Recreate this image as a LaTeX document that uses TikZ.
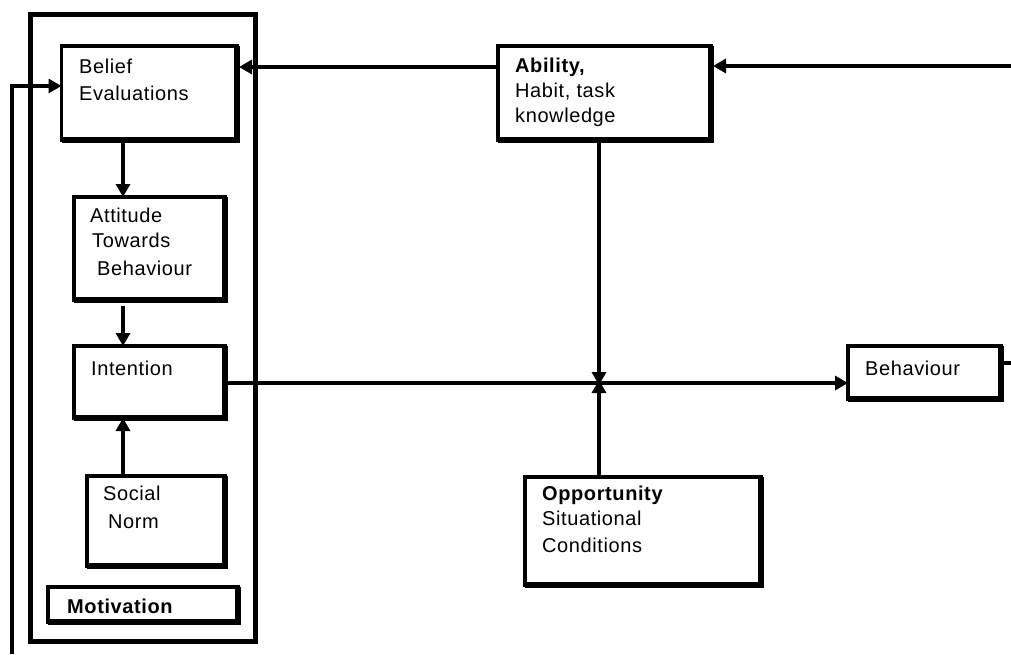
\documentclass[tikz,border=0pt]{standalone}
\usepackage{fontspec}
\setmainfont{Liberation Sans}[LetterSpace=3]
\usetikzlibrary{arrows.meta,calc}
\begin{document}
\begin{tikzpicture}[x=1pt,y=-1pt,
  box/.style={draw, line width=3.5pt, outer sep=0pt, inner sep=0pt, anchor=north west},
  outerbox/.style={box, line width=5pt},
  lbl/.style={anchor=base west, inner sep=0pt, font=\fontsize{20}{24}\selectfont},
  blbl/.style={anchor=base west, inner sep=0pt, font=\fontsize{20}{24}\selectfont\bfseries},
  conn/.style={line width=4.5pt, -{Triangle[length=13pt,width=14pt]}},
  hconn/.style={line width=4pt, -{Triangle[length=13pt,width=14pt]}},
  plain/.style={line width=4pt}]
\useasboundingbox (0,0) rectangle (1011,654);

% boxes
\node[outerbox, minimum width=225pt, minimum height=627pt] (outer) at (30,14) {};
\node[box, minimum width=175.5pt, minimum height=94pt] (belief) at (61.5,46) {};
\node[box, minimum width=151pt, minimum height=103pt] (attitude) at (74,197) {};
\node[box, minimum width=151pt, minimum height=72pt] (intention) at (74,346) {};
\node[box, minimum width=138pt, minimum height=90pt] (social) at (87,476) {};
\node[box, minimum width=190pt, minimum height=35pt] (motiv) at (48,587) {};
\node[box, minimum width=213pt, minimum height=94pt] (ability) at (498,46) {};
\node[box, minimum width=153pt, minimum height=53pt] (behav) at (848,346) {};
\node[box, minimum width=236pt, minimum height=108pt] (opp) at (525,477) {};
\foreach \n in {belief,attitude,intention,social,motiv,ability,behav,opp}
  \draw[line width=5.5pt] (\n.north east) -- (\n.south east) -- (\n.south west);

% labels
\node[lbl] (t1) at (79,73) {Belief};
\node[lbl] (t2) at (79,100) {Evaluations};
\node[lbl] (t3) at (90,222) {Attitude};
\node[lbl] (t4) at (92,247) {Towards};
\node[lbl] (t5) at (97,275) {Behaviour};
\node[lbl] (t6) at (91,375) {Intention};
\node[lbl] (t7) at (103,500) {Social};
\node[lbl] (t8) at (108,528) {Norm};
\node[blbl] (t9) at (67,613) {Motivation};
\node[blbl] (t10) at (515,72) {Ability,};
\node[lbl] (t11) at (515,97) {Habit, task};
\node[lbl] (t12) at (515,122) {knowledge};
\node[blbl] (t13) at (542,500) {Opportunity};
\node[lbl] (t14) at (542,525) {Situational};
\node[lbl] (t15) at (542,552) {Conditions};
\node[lbl] (t16) at (865,375) {Behaviour};

% coordinates
\coordinate (ax) at (123,0);
\coordinate (j) at (599,383);
\coordinate (rin) at (1011,66);
\coordinate (bout) at (1011,363);
\coordinate (fb) at (12,654);

% connectors
\draw[conn] (belief.south -| ax) -- (attitude.north -| ax);
\draw[conn] ($(attitude.south -| ax)+(0,6)$) -- (intention.north -| ax);
\draw[conn] (social.north -| ax) -- (intention.south -| ax);
\draw[hconn] (ability.west |- 0,67) -- ([xshift=2pt]belief.east |- 0,67);
\draw[hconn] (rin) -- ([xshift=2pt]ability.east |- rin);
\draw[conn] (ability.south -| j) -- ([yshift=-2pt]j);
\draw[conn] (opp.north -| j) -- ([yshift=3pt]j);
\draw[hconn] (intention.east |- j) -- (behav.west |- j);
\draw[plain] (behav.east |- bout) -- (bout);
\draw[hconn] (fb) |- (belief.west |- 0,86);
\end{tikzpicture}
\end{document}
